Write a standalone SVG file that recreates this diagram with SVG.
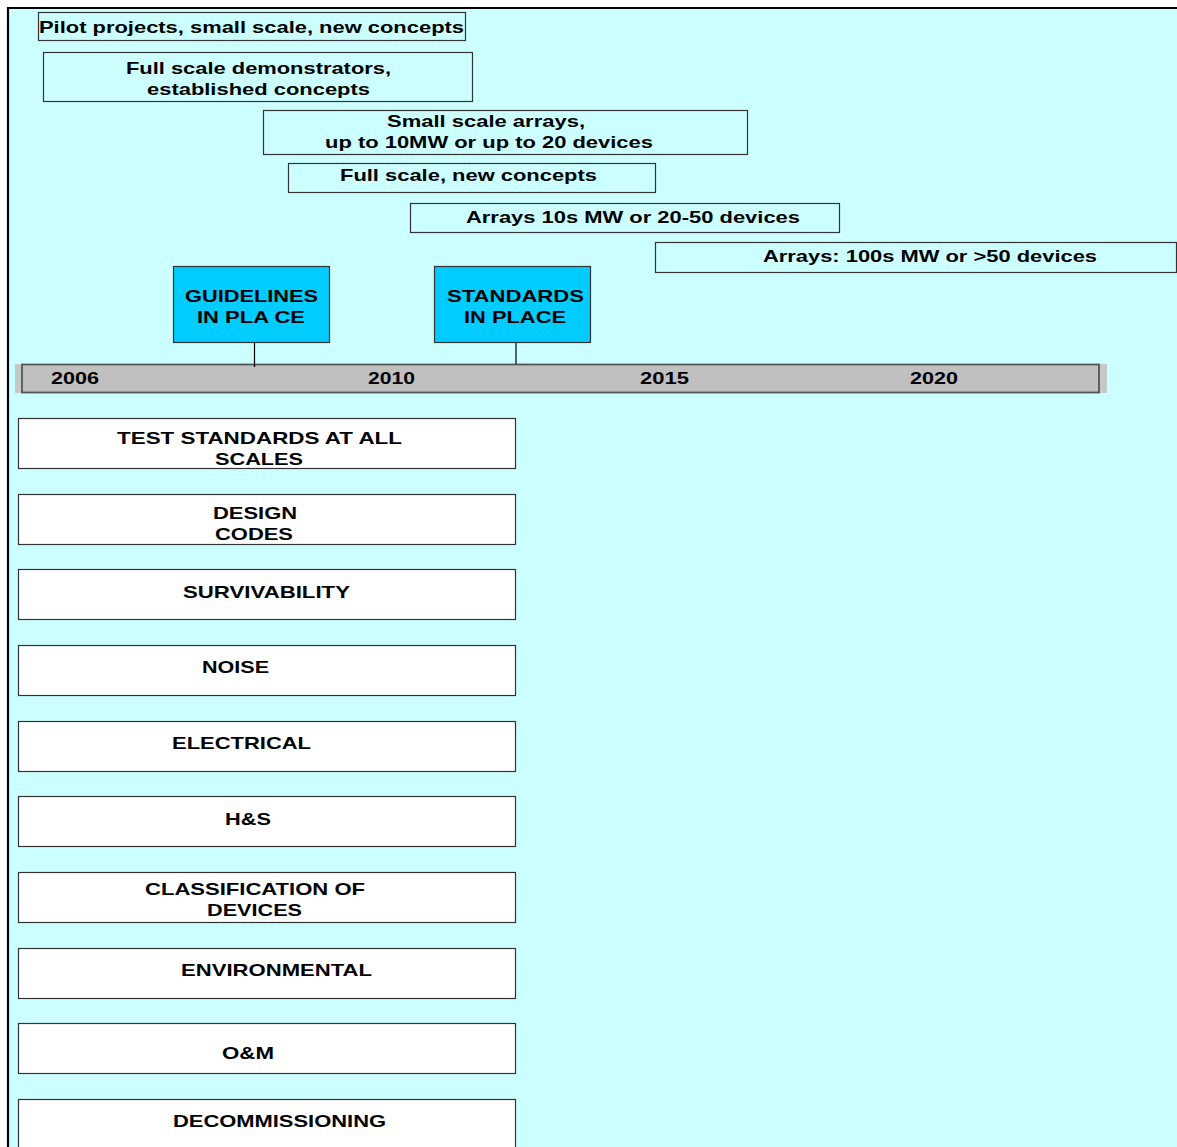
<svg xmlns="http://www.w3.org/2000/svg" width="1177" height="1147" viewBox="0 0 1177 1147">
  <style>
    text { font-family: "Liberation Sans", Arial, sans-serif; font-weight: bold; font-size: 17px; fill: #000; text-anchor: middle; }
    .phase rect { fill: #ccffff; stroke: #333; stroke-width: 1.2; }
    .milestone rect { fill: #00ccff; stroke: #333; stroke-width: 1.2; }
    .topic rect { fill: #ffffff; stroke: #333; stroke-width: 1.2; }
    .link { stroke: #000; stroke-width: 1.2; }
  </style>

  <!-- page and frame -->
  <rect x="0" y="0" width="1177" height="1147" fill="#ffffff"/>
  <rect x="8" y="8" width="1169" height="1139" fill="#ccffff"/>
  <path d="M8 1147 V8 H1177" fill="none" stroke="#000" stroke-width="2.2"/>

  <!-- development phases -->
  <g id="phase-pilot" class="phase">
    <rect x="38.5" y="12.5" width="427" height="28"/>
    <text x="251.5" y="33" textLength="425" lengthAdjust="spacingAndGlyphs">Pilot projects, small scale, new concepts</text>
  </g>
  <g id="phase-demonstrators" class="phase">
    <rect x="43.5" y="52.5" width="429" height="49"/>
    <text x="258.5" y="74" textLength="265" lengthAdjust="spacingAndGlyphs">Full scale demonstrators,</text>
    <text x="258.5" y="95" textLength="223" lengthAdjust="spacingAndGlyphs">established concepts</text>
  </g>
  <g id="phase-small-arrays" class="phase">
    <rect x="263.5" y="110.5" width="484" height="44"/>
    <text x="486" y="127" textLength="198" lengthAdjust="spacingAndGlyphs">Small scale arrays,</text>
    <text x="489" y="148" textLength="328" lengthAdjust="spacingAndGlyphs">up to 10MW or up to 20 devices</text>
  </g>
  <g id="phase-full-new" class="phase">
    <rect x="288.5" y="163.5" width="367" height="29"/>
    <text x="468.5" y="181" textLength="257" lengthAdjust="spacingAndGlyphs">Full scale, new concepts</text>
  </g>
  <g id="phase-arrays-10s" class="phase">
    <rect x="410.5" y="203.5" width="429" height="29"/>
    <text x="633" y="223" textLength="334" lengthAdjust="spacingAndGlyphs">Arrays 10s MW or 20-50 devices</text>
  </g>
  <g id="phase-arrays-100s" class="phase">
    <rect x="655.5" y="242.5" width="521" height="30"/>
    <text x="930" y="262" textLength="334" lengthAdjust="spacingAndGlyphs">Arrays: 100s MW or &gt;50 devices</text>
  </g>

  <!-- timeline bar -->
  <g id="timeline">
    <rect x="15" y="364" width="1092" height="29" fill="#c4c8c8"/>
    <rect x="22" y="364.5" width="1077" height="28" fill="#c0c0c0" stroke="#555" stroke-width="1.8"/>
    <text x="75" y="384" textLength="48" lengthAdjust="spacingAndGlyphs">2006</text>
    <text x="391.5" y="384" textLength="47" lengthAdjust="spacingAndGlyphs">2010</text>
    <text x="664.5" y="384" textLength="49" lengthAdjust="spacingAndGlyphs">2015</text>
    <text x="934" y="384" textLength="48" lengthAdjust="spacingAndGlyphs">2020</text>
  </g>

  <!-- milestone ties to the timeline -->
  <g id="connectors">
    <line class="link" x1="254.5" y1="342" x2="254.5" y2="367"/>
    <line class="link" x1="516" y1="342" x2="516" y2="364" stroke="#555"/>
  </g>

  <!-- milestones -->
  <g id="milestone-guidelines" class="milestone">
    <rect x="173.5" y="266.5" width="156" height="76"/>
    <text x="251.5" y="302" textLength="133" lengthAdjust="spacingAndGlyphs">GUIDELINES</text>
    <text x="251" y="323" textLength="108" lengthAdjust="spacingAndGlyphs">IN PLA CE</text>
  </g>
  <g id="milestone-standards" class="milestone">
    <rect x="434.5" y="266.5" width="156" height="76"/>
    <text x="515.5" y="302" textLength="137" lengthAdjust="spacingAndGlyphs">STANDARDS</text>
    <text x="515" y="323" textLength="102" lengthAdjust="spacingAndGlyphs">IN PLACE</text>
  </g>

  <!-- topic areas -->
  <g id="topic-test-standards" class="topic">
    <rect x="18.5" y="418.5" width="497" height="50"/>
    <text x="259.5" y="444" textLength="285" lengthAdjust="spacingAndGlyphs">TEST STANDARDS AT ALL</text>
    <text x="259" y="465" textLength="88" lengthAdjust="spacingAndGlyphs">SCALES</text>
  </g>
  <g id="topic-design-codes" class="topic">
    <rect x="18.5" y="494.5" width="497" height="50"/>
    <text x="255" y="519" textLength="84" lengthAdjust="spacingAndGlyphs">DESIGN</text>
    <text x="254" y="540" textLength="78" lengthAdjust="spacingAndGlyphs">CODES</text>
  </g>
  <g id="topic-survivability" class="topic">
    <rect x="18.5" y="569.5" width="497" height="50"/>
    <text x="266.5" y="598" textLength="167" lengthAdjust="spacingAndGlyphs">SURVIVABILITY</text>
  </g>
  <g id="topic-noise" class="topic">
    <rect x="18.5" y="645.5" width="497" height="50"/>
    <text x="235.5" y="673" textLength="67" lengthAdjust="spacingAndGlyphs">NOISE</text>
  </g>
  <g id="topic-electrical" class="topic">
    <rect x="18.5" y="721.5" width="497" height="50"/>
    <text x="241.5" y="749" textLength="139" lengthAdjust="spacingAndGlyphs">ELECTRICAL</text>
  </g>
  <g id="topic-hs" class="topic">
    <rect x="18.5" y="796.5" width="497" height="50"/>
    <text x="248" y="825" textLength="46" lengthAdjust="spacingAndGlyphs">H&amp;S</text>
  </g>
  <g id="topic-classification" class="topic">
    <rect x="18.5" y="872.5" width="497" height="50"/>
    <text x="255" y="895" textLength="220" lengthAdjust="spacingAndGlyphs">CLASSIFICATION OF</text>
    <text x="254.5" y="916" textLength="95" lengthAdjust="spacingAndGlyphs">DEVICES</text>
  </g>
  <g id="topic-environmental" class="topic">
    <rect x="18.5" y="948.5" width="497" height="50"/>
    <text x="276.5" y="976" textLength="191" lengthAdjust="spacingAndGlyphs">ENVIRONMENTAL</text>
  </g>
  <g id="topic-om" class="topic">
    <rect x="18.5" y="1023.5" width="497" height="50"/>
    <text x="248" y="1059" textLength="52" lengthAdjust="spacingAndGlyphs">O&amp;M</text>
  </g>
  <g id="topic-decommissioning" class="topic">
    <rect x="18.5" y="1099.5" width="497" height="60"/>
    <text x="279.5" y="1127" textLength="213" lengthAdjust="spacingAndGlyphs">DECOMMISSIONING</text>
  </g>
</svg>
